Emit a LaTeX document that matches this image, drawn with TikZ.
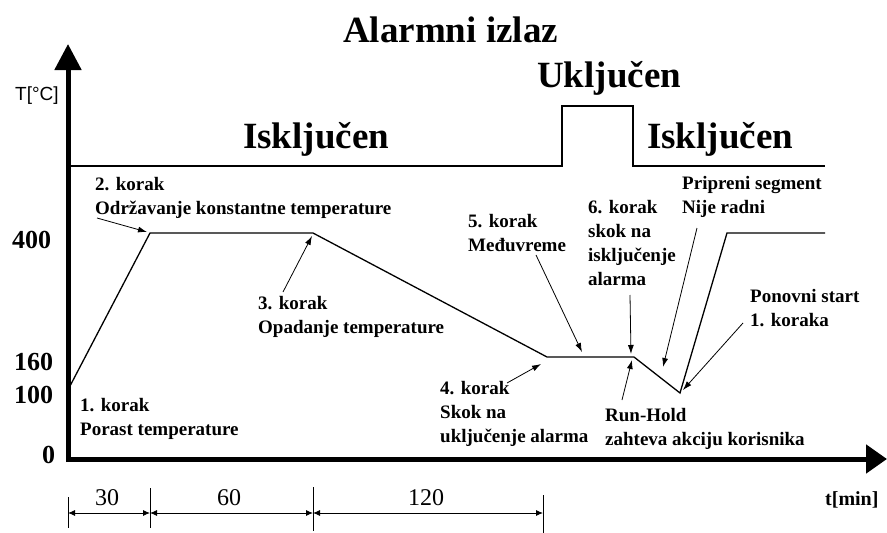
\documentclass[tikz,border=0pt]{standalone}
\usepackage{fontspec}
\setmainfont{Liberation Serif}
\newfontfamily\labsans{Liberation Sans}
\usetikzlibrary{arrows.meta}
\begin{document}
\begin{tikzpicture}[x=1pt,y=-1pt,
  big/.style={font=\bfseries\fontsize{37}{40}\selectfont, inner sep=0pt, anchor=base west},
  lab/.style={font=\bfseries\fontsize{19}{24}\selectfont, inner sep=0pt, anchor=base west, align=left},
  tick/.style={font=\bfseries\fontsize{26}{28}\selectfont, inner sep=0pt, anchor=base west},
  dimlab/.style={font=\fontsize{24}{26}\selectfont, inner sep=0pt, anchor=base west},
  axis/.style={line width=5pt},
  prof/.style={line width=1.3pt},
  note/.style={line width=0.8pt, -{Latex[length=9pt,width=6pt]}},
  dim/.style={line width=0.9pt, {Latex[length=7pt,width=6pt]}-{Latex[length=7pt,width=6pt]}},
  dimtick/.style={line width=0.9pt}
]
\useasboundingbox (0,0) rectangle (887,533);
% axes
\coordinate (o) at (68,459);
\coordinate (ybot) at (68,462);
\coordinate (ytop) at (68,44);
\coordinate (xbeg) at (66,459);
\coordinate (xend) at (887,459);
\draw[axis,-{Triangle[length=26pt,width=26pt]}] (ybot) -- (ytop);
\draw[axis,-{Triangle[length=21pt,width=28pt]}] (xbeg) -- (xend);
% alarm output line
\coordinate (a0) at (68,166);
\coordinate (a1) at (562,166);
\coordinate (a2) at (562,106);
\coordinate (a3) at (633,106);
\coordinate (a4) at (633,166);
\coordinate (a5) at (825,166);
\draw[prof] (a0) -- (a1) -- (a2) -- (a3) -- (a4) -- (a5);
% temperature profile
\coordinate (p0) at (70,386);
\coordinate (p1) at (150,233);
\coordinate (p2) at (313,233);
\coordinate (p3) at (547,357);
\coordinate (p4) at (634,357);
\coordinate (p5) at (680,393);
\coordinate (p6) at (727,233);
\coordinate (p7) at (825,233);
\draw[prof] (p0) -- (p1) -- (p2) -- (p3) -- (p4) -- (p5) -- (p6) -- (p7);
% titles
\node[big] (title) at (343,42) {Alarmni izlaz};
\node[big] (ukl) at (537,87) {Uključen};
\node[big] (isk1) at (243,148) {Isključen};
\node[big] (isk2) at (647,148) {Isključen};
% axis labels
\node[font=\labsans\fontsize{19}{21}\selectfont, inner sep=0pt, anchor=base west] (tc) at (15,100) {T[°C]};
\node[tick] (t400) at (12,248) {400};
\node[tick] (t160) at (14,370) {160};
\node[tick] (t100) at (14,403) {100};
\node[tick] (t0) at (42,463) {0};
\node[font=\bfseries\fontsize{20}{22}\selectfont, inner sep=0pt, anchor=base west] (tmin) at (825,505) {t[min]};
% step labels (anchored at the baseline of the last line)
\node[lab] (k2) at (95,214) {2. korak\\Održavanje konstantne temperature};
\node[lab] (k1) at (80,435) {1. korak\\Porast temperature};
\node[lab] (k3) at (258,333) {3. korak\\Opadanje temperature};
\node[lab] (k4) at (440,442) {4. korak\\Skok na\\uključenje alarma};
\node[lab] (k5) at (468,251) {5. korak\\Međuvreme};
\node[lab] (k6) at (588,285) {6. korak\\skok na\\isključenje\\alarma};
\node[lab] (prip) at (682,213) {Pripreni segment\\Nije radni};
\node[lab] (pon) at (750,326) {Ponovni start\\1. koraka};
\node[lab] (run) at (605,445) {Run-Hold\\zahteva akciju korisnika};
% annotation arrows
\coordinate (s2) at (97,218);   \coordinate (e2) at (147,232);
\coordinate (s3) at (283,292);  \coordinate (e3) at (312,236);
\coordinate (s4) at (507,383);  \coordinate (e4) at (541,364);
\coordinate (s5) at (536,255);  \coordinate (e5) at (582,352);
\coordinate (s6) at (630,295);  \coordinate (e6) at (631,354);
\coordinate (sr) at (622,400);  \coordinate (er) at (632,360);
\coordinate (sp) at (697,228);  \coordinate (ep) at (663,367);
\coordinate (sn) at (743,323);  \coordinate (en) at (683,390);
\draw[note] (s2) -- (e2);
\draw[note] (s3) -- (e3);
\draw[note] (s4) -- (e4);
\draw[note] (s5) -- (e5);
\draw[note] (s6) -- (e6);
\draw[note] (sr) -- (er);
\draw[note] (sp) -- (ep);
\draw[note] (sn) -- (en);
% dimensions
\coordinate (d0t) at (68,497);  \coordinate (d0b) at (68,528);
\coordinate (d1t) at (150,488); \coordinate (d1b) at (150,528);
\coordinate (d2t) at (313,487); \coordinate (d2b) at (313,531);
\coordinate (d3t) at (543,495); \coordinate (d3b) at (543,533);
\draw[dimtick] (d0t) -- (d0b);
\draw[dimtick] (d1t) -- (d1b);
\draw[dimtick] (d2t) -- (d2b);
\draw[dimtick] (d3t) -- (d3b);
\coordinate (m0) at (68,513); \coordinate (m1) at (150,513);
\coordinate (m2) at (313,513); \coordinate (m3) at (543,513);
\draw[dim] (m0) -- (m1);
\draw[dim] (m1) -- (m2);
\draw[dim] (m2) -- (m3);
\node[dimlab] (l30) at (95,505) {30};
\node[dimlab] (l60) at (217,505) {60};
\node[dimlab] (l120) at (408,505) {120};
\end{tikzpicture}
\end{document}
